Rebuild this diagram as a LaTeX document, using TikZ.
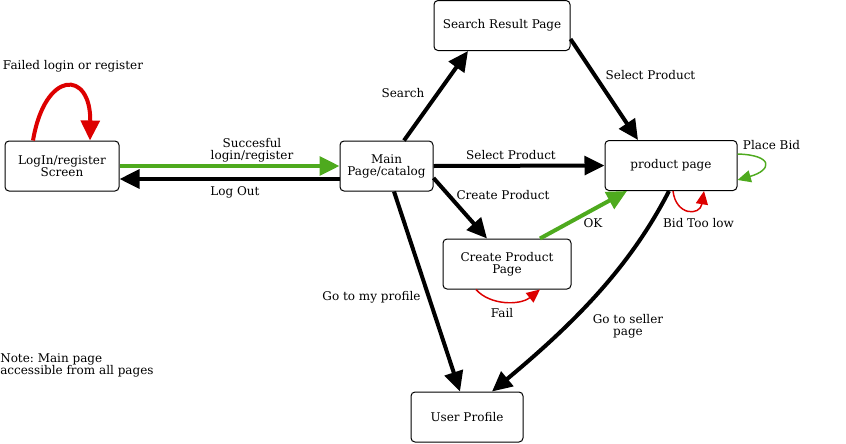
\documentclass[tikz,border=0pt]{standalone}
\usepackage{fontspec}
\setmainfont{DejaVu Serif}
\usetikzlibrary{arrows.meta,calc}
\definecolor{okgreen}{RGB}{78,170,30}
\definecolor{failred}{RGB}{221,0,0}
\frenchspacing

\begin{document}
\begin{tikzpicture}[x=0.75pt,y=0.75pt,yscale=-1,
  page/.style={draw,rounded corners=3pt,line width=0.75pt,minimum height=37.5pt,inner sep=0pt,align=center,font=\fontsize{9}{9}\selectfont},
  txt/.style={inner sep=0.75pt,align=center,font=\fontsize{9}{9}\selectfont},
  flow/.style={line width=3pt,-{Triangle[length=15pt,width=14pt]}},
  selfloop/.style={line width=1.1pt,-{Triangle[length=10pt,width=9pt]}}]
\useasboundingbox (0,0) rectangle (846,443);

%Shape: Rectangles
\draw (62,166) node (login) [page,minimum width=85.5pt] {LogIn/register\\Screen};
\draw (386.5,166) node (main) [page,minimum width=69.75pt] {Main\\Page/catalog};
\draw (502,25.5) node (search) [page,minimum width=102pt] {Search Result Page};
\draw (671,165.5) node (product) [page,minimum width=99pt] {product page};
\draw (507,264) node (create) [page,minimum width=96pt] {Create Product\\Page};
\draw (467,417) node (user) [page,minimum width=84pt] {User Profile};

%Straight Lines
\draw [flow,okgreen] (login.east) -- (main.west);
\draw [flow] ($(main.west)+(0,13)$) -- ($(login.east)+(0,13)$);
\draw [flow] ($(main.north)+(17.5,0)$) -- ($(search.south)+(-34,0)$);
\draw [flow] ($(search.east)+(0,13.5)$) -- ($(product.north)+(-33,0)$);
\draw [flow] (main.east) -- (product.west);
\draw [flow] ($(main.east)+(0,12)$) -- ($(create.north)+(-20,0)$);
\draw [flow,okgreen] ($(create.north)+(33,0)$) -- ($(product.south)+(-44,0)$);
\draw [flow] ($(main.south)+(7.5,0)$) -- ($(user.north)+(-7,0)$);
%Curve Lines
\draw [flow] ($(product.south)+(-2,0)$) .. controls +(-37,72) and +(88,-73) .. ($(user.north)+(25,0)$);
\draw [flow,failred] ($(login.north)+(-29,0)$) .. controls +(12,-71) and +(1,-71) .. ($(login.north)+(28,0)$);
\draw [selfloop,okgreen] ($(product.east)+(0,-11.5)$) .. controls +(36,1) and +(35,-10) .. ($(product.east)+(0,14.5)$);
\draw [selfloop,failred] ($(product.south)+(2,0)$) .. controls +(3,25) and +(-4,25) .. ($(product.south)+(33,0)$);
\draw [selfloop,failred] ($(create.south)+(-31,0)$) .. controls +(14,16) and +(-20,16) .. ($(create.south)+(33,0)$);

% Text Node
\draw (73,66) node (lblfailed) [txt] {Failed login or register};
% Text Node
\draw (403,93) node (lblsearch) [txt] {Search};
% Text Node
\draw (650.5,75) node (lblpick) [txt] {Select Product};
% Text Node
\draw (252,150) node (lbllogin) [txt] {Succesful\\login/register};
% Text Node
\draw (235,192) node (lbllogout) [txt] {Log Out};
% Text Node
\draw (511,155) node (lblselect) [txt] {Select Product};
% Text Node
\draw (503,195) node (lblcreate) [txt] {Create Product};
% Text Node
\draw (593,223) node (lblok) [txt] {OK};
% Text Node
\draw (771.5,145) node (lblbid) [txt] {Place Bid};
% Text Node
\draw (698.5,223) node (lbllow) [txt] {Bid Too low};
% Text Node
\draw (371.5,297) node (lblprofile) [txt] {Go to my profile};
% Text Node
\draw (502,313) node (lblfail) [txt] {Fail};
% Text Node
\draw (628,326) node (lblseller) [txt] {Go to seller\\page};
% Text Node
\draw (0,365.5) node (note) [txt,anchor=west,align=left,inner sep=0pt] {Note: Main page\\accessible from all pages};

\end{tikzpicture}
\end{document}
